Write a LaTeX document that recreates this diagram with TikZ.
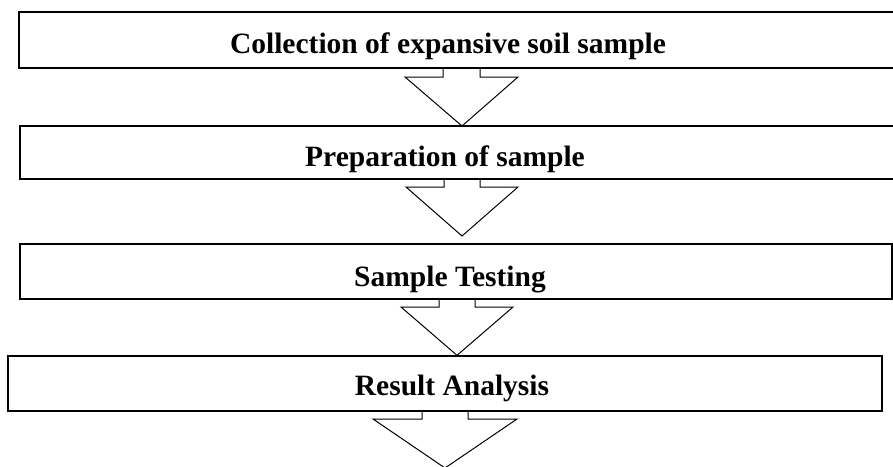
\documentclass[tikz,border=0pt]{standalone}
\usepackage{fontspec}
\setmainfont{Liberation Serif}
\begin{document}
\begin{tikzpicture}[x=1pt,y=-1pt,
  box/.style={draw, line width=1.3pt, inner sep=0pt},
  lbl/.style={anchor=base, inner sep=0pt, font=\fontsize{29.5}{32}\selectfont\bfseries},
  blockarrow/.style={draw, line width=1pt, line join=miter}]
\clip (0,0) rectangle (893,466);
% boxes
\node[box, minimum width=886pt, minimum height=56pt] (b1) at (462,40) {};
\node[box, minimum width=885pt, minimum height=53pt] (b2) at (462.5,152.5) {};
\node[box, minimum width=872pt, minimum height=55pt] (b3) at (456,271.5) {};
\node[box, minimum width=874pt, minimum height=55pt] (b4) at (445,383.5) {};
% labels
\node[lbl] (t1) at (448,53) {Collection of expansive soil sample};
\node[lbl] (t2) at (445,166) {Preparation of sample};
\node[lbl] (t3) at (450,286) {Sample Testing};
\node[lbl] (t4) at (452,395) {Result Analysis};
% block arrows
\coordinate (tip4) at (445,468);
\draw[blockarrow] ([xshift=-19pt]b1.south) |- (405,77) -- (462,126) -- (518,77) -| ([xshift=18pt]b1.south);
\draw[blockarrow] ([xshift=-18.5pt]b2.south) |- (406,187) -- (462,236) -- (518,187) -| ([xshift=17.5pt]b2.south);
\draw[blockarrow] ([xshift=-17pt]b3.south) |- (401,307) -- ([xshift=12pt]b4.north) -- (513,307) -| ([xshift=19pt]b3.south);
\draw[blockarrow] ([xshift=-23pt]b4.south) |- (373,419) -- (tip4) -- (517,419) -| ([xshift=23pt]b4.south);
\end{tikzpicture}
\end{document}
